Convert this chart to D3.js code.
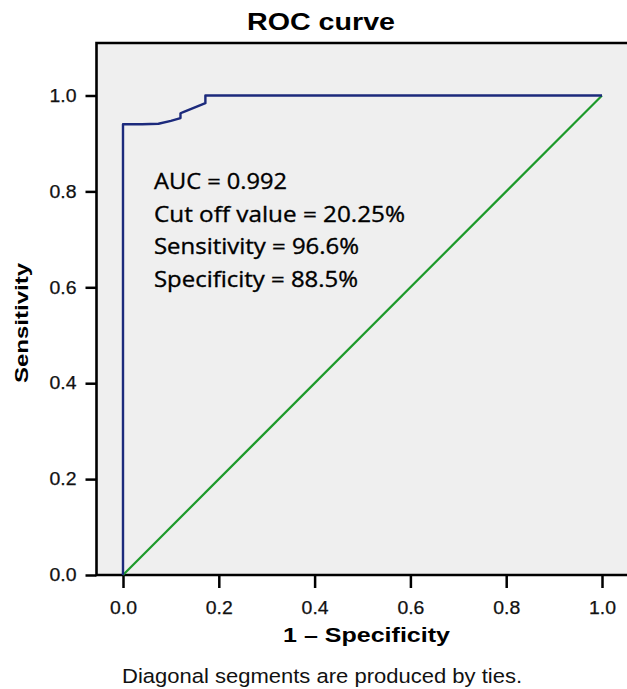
<!DOCTYPE html>
<html lang="en">
<head>
    <meta charset="UTF-8">
    <title>ROC curve</title>
    <script src="https://d3js.org/d3.v7.min.js"></script>
    <style>
        body {
            margin: 0;
            background-color: #ffffff;
            font-family: "Liberation Sans", Arial, sans-serif;
        }

        .tick text {
            font-size: 18px;
            fill: #111;
            stroke: #111;
            stroke-width: 0.25px;
        }

        .tick line {
            stroke: #000;
            stroke-width: 2.5px;
        }

        .stats text {
            font-family: "Open Sans", sans-serif;
            font-size: 22px;
            fill: #000;
            stroke: #000;
            stroke-width: 0.35px;
        }
    </style>
</head>
<body>
<script>
    // ROC curve points
    const fpr = [0, 0, 0.04, 0.074, 0.10, 0.12, 0.12, 0.127, 0.172, 0.172, 1];
    const tpr = [0, 0.94, 0.94, 0.941, 0.947, 0.953, 0.963, 0.966, 0.984, 1.0, 1.0];

    // reference (chance) line
    const refX = [0, 1];
    const refY = [0, 1];

    const tickValues = [0, 0.2, 0.4, 0.6, 0.8, 1.0];

    const statLines = [
        "AUC = 0.992",
        "Cut off value = 20.25%",
        "Sensitivity = 96.6%",
        "Specificity = 88.5%"
    ];
    // rendered widths of the stat lines in the picture
    const statWidths = [133, 251, 205, 204];

    const width = 627, height = 689;
    const frame = {left: 96.5, top: 43, bottom: 575, right: 640};

    const svg = d3.select("body").append("svg")
        .attr("width", width)
        .attr("height", height);

    const x = d3.scaleLinear().domain([0, 1]).range([123, 602]);
    const y = d3.scaleLinear().domain([0, 1]).range([575, 95.5]);

    // panel background
    svg.append("rect")
        .attr("x", frame.left)
        .attr("y", frame.top)
        .attr("width", frame.right - frame.left)
        .attr("height", frame.bottom - frame.top)
        .attr("fill", "#efefef");

    // axes
    const xAxis = svg.append("g")
        .attr("transform", `translate(0,${frame.bottom})`)
        .call(d3.axisBottom(x).tickValues(tickValues)
            .tickFormat(d3.format(".1f")).tickSize(13).tickPadding(13));
    xAxis.select(".domain").remove();
    xAxis.selectAll(".tick text")
        .attr("textLength", 27)
        .attr("lengthAdjust", "spacingAndGlyphs");

    const yAxis = svg.append("g")
        .attr("transform", `translate(${frame.left},0)`)
        .call(d3.axisLeft(y).tickValues(tickValues)
            .tickFormat(d3.format(".1f")).tickSize(11).tickPadding(9));
    yAxis.select(".domain").remove();
    yAxis.selectAll(".tick text")
        .attr("textLength", 27)
        .attr("lengthAdjust", "spacingAndGlyphs");

    // frame (right side runs off the picture)
    svg.append("path")
        .attr("d", `M${frame.right},${frame.top}H${frame.left}V${frame.bottom}H${frame.right}`)
        .attr("fill", "none")
        .attr("stroke", "#000")
        .attr("stroke-width", 2.6);

    const line = d3.line()
        .x(d => x(d[0]))
        .y(d => y(d[1]));

    svg.append("path")
        .datum(d3.zip(refX, refY))
        .attr("d", line)
        .attr("fill", "none")
        .attr("stroke", "#1d9a2a")
        .attr("stroke-width", 2.2);

    svg.append("path")
        .datum(d3.zip(fpr, tpr))
        .attr("d", line)
        .attr("fill", "none")
        .attr("stroke", "#1c2a7c")
        .attr("stroke-width", 2.4)
        .attr("stroke-linejoin", "round");

    // stats block
    svg.append("g")
        .attr("class", "stats")
        .selectAll("text")
        .data(statLines)
        .join("text")
        .attr("x", 154)
        .attr("y", (d, i) => 189 + i * 32.5)
        .attr("textLength", (d, i) => statWidths[i])
        .attr("lengthAdjust", "spacingAndGlyphs")
        .text(d => d);

    // titles
    svg.append("text")
        .attr("x", 321)
        .attr("y", 29.5)
        .attr("text-anchor", "middle")
        .attr("font-size", 23)
        .attr("font-weight", "bold")
        .attr("textLength", 148)
        .attr("lengthAdjust", "spacingAndGlyphs")
        .text("ROC curve");

    svg.append("text")
        .attr("x", 366.5)
        .attr("y", 642)
        .attr("text-anchor", "middle")
        .attr("font-size", 20)
        .attr("font-weight", "bold")
        .attr("textLength", 167)
        .attr("lengthAdjust", "spacingAndGlyphs")
        .text("1 \u2013 Specificity");

    svg.append("text")
        .attr("transform", "translate(28,323) rotate(-90)")
        .attr("text-anchor", "middle")
        .attr("font-size", 19)
        .attr("font-weight", "bold")
        .attr("textLength", 120)
        .attr("lengthAdjust", "spacingAndGlyphs")
        .text("Sensitivity");

    svg.append("text")
        .attr("x", 322)
        .attr("y", 683)
        .attr("text-anchor", "middle")
        .attr("font-size", 20.5)
        .attr("fill", "#111")
        .attr("textLength", 400)
        .attr("lengthAdjust", "spacingAndGlyphs")
        .text("Diagonal segments are produced by ties.");
</script>
</body>
</html>
